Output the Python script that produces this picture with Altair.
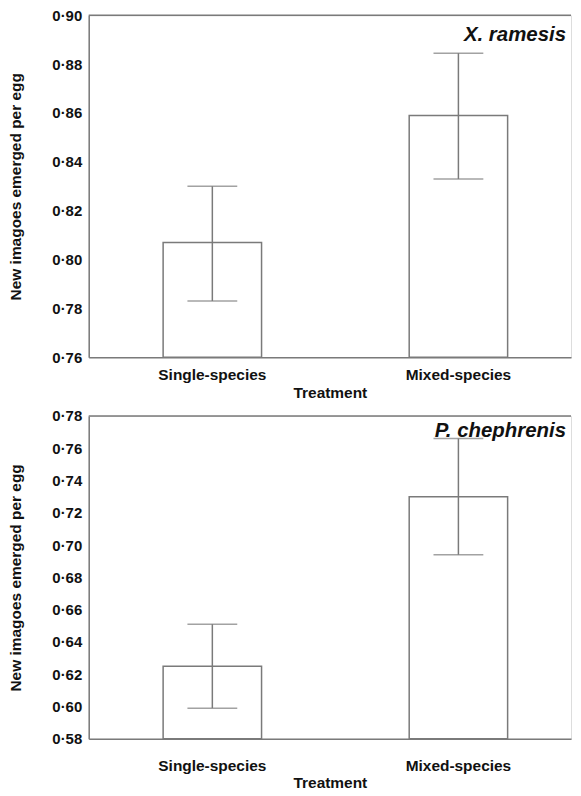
import altair as alt
import pandas as pd

treatments = ["Single-species", "Mixed-species"]

# Panel 1: X. ramesis
x_mean = [0.807, 0.859]
x_lo = [0.783, 0.833]
x_hi = [0.830, 0.8845]

# Panel 2: P. chephrenis
p_mean = [0.625, 0.730]
p_lo = [0.599, 0.694]
p_hi = [0.651, 0.766]

top_ticks = [0.76, 0.78, 0.80, 0.82, 0.84, 0.86, 0.88, 0.90]
bot_ticks = [0.58, 0.60, 0.62, 0.64, 0.66, 0.68, 0.70, 0.72, 0.74, 0.76, 0.78]

FONT = "Liberation Sans"
GREY = "#7a7a7a"
W = 484


def panel(mean, lo, hi, ticks, label, h, lab_pad, title_pad, title_y):
    df = pd.DataFrame({"treatment": treatments, "mean": mean, "lo": lo, "hi": hi})
    ymin, ymax = ticks[0], ticks[-1]
    xscale = alt.Scale(paddingInner=0.6, paddingOuter=0.28, align=0.54)
    xenc = alt.X(
        "treatment:N",
        sort=treatments,
        scale=xscale,
        axis=alt.Axis(
            title="Treatment",
            labelAngle=0,
            ticks=False,
            labelPadding=lab_pad,
            titlePadding=title_pad,
            labelFontSize=15.5,
            titleFontSize=15.5,
            labelFont=FONT,
            titleFont=FONT,
            labelFontWeight="bold",
            titleFontWeight="bold",
            labelColor="#111",
            titleColor="#111",
            domainColor=GREY,
            domainWidth=1.5,
        ),
    )
    yscale = alt.Scale(domain=[ymin, ymax], nice=False, zero=False)
    yaxis = alt.Axis(
        title="New imagoes emerged per egg",
        values=ticks,
        labelExpr="replace(format(datum.value, '.2f'), '.', '·')",
        labelOverlap=False,
        tickCount=len(ticks),
        ticks=False,
        grid=False,
        labelPadding=7,
        titlePadding=28,
        labelFontSize=15,
        titleFontSize=15.5,
        labelFont=FONT,
        titleFont=FONT,
        labelFontWeight="bold",
        titleFontWeight="bold",
        labelColor="#111",
        titleColor="#111",
        domainColor=GREY,
        domainWidth=1.5,
    )
    base = alt.Chart(df)
    bars = base.mark_bar(fill="white", stroke=GREY, strokeWidth=1.5).encode(
        x=xenc,
        y=alt.Y("mean:Q", scale=yscale, axis=yaxis),
        y2=alt.datum(ymin),
    )
    err = base.mark_rule(color=GREY, strokeWidth=1.5).encode(
        x=alt.X("treatment:N", sort=treatments),
        y="lo:Q",
        y2="hi:Q",
    )
    cap_lo = base.mark_tick(color=GREY, thickness=1.5, size=50).encode(
        x=alt.X("treatment:N", sort=treatments), y="lo:Q"
    )
    cap_hi = base.mark_tick(color=GREY, thickness=1.5, size=50).encode(
        x=alt.X("treatment:N", sort=treatments), y="hi:Q"
    )
    top_line = alt.Chart(pd.DataFrame({"a": [0]})).mark_rule(
        color=GREY, strokeWidth=1.5
    ).encode(x=alt.value(0), x2=alt.value(W), y=alt.value(0))
    txt = alt.Chart(pd.DataFrame({"label": [label]})).mark_text(
        align="right",
        baseline="alphabetic",
        font=FONT,
        fontSize=20.5,
        fontWeight="bold",
        fontStyle="italic",
        color="#111",
    ).encode(text="label:N", x=alt.value(W - 5), y=alt.value(title_y))
    return alt.layer(bars, err, cap_lo, cap_hi, top_line, txt).properties(
        width=W, height=h
    )


top = panel(x_mean, x_lo, x_hi, top_ticks, "X. ramesis", 343, 10, 3, 26)
bot = panel(p_mean, p_lo, p_hi, bot_ticks, "P. chephrenis", 324, 20, 1, 21)

chart = (
    alt.vconcat(
        top,
        bot,
        spacing=6,
        padding={"top": -2, "left": 0, "right": 0, "bottom": 0},
    )
    .configure_view(stroke=None)
    .configure_axisY(labelOverlap=False)
    .configure(background="white")
)

chart.save("out.html", embed_options={"renderer": "svg", "actions": False})
